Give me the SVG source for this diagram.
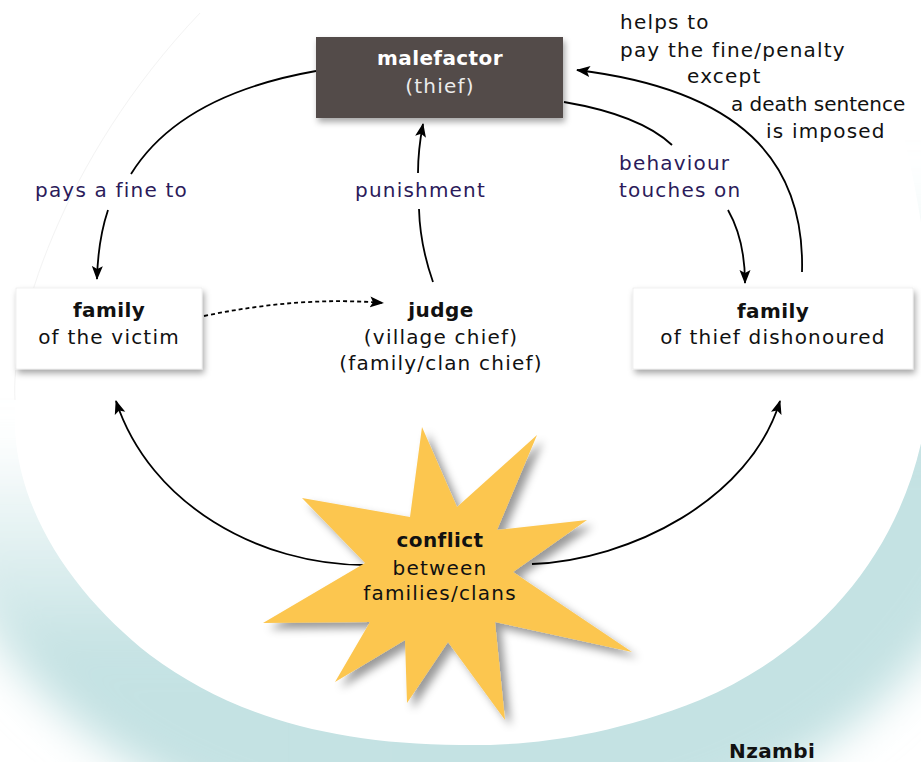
<svg xmlns="http://www.w3.org/2000/svg" width="921" height="762" viewBox="0 0 921 762">
<defs>
<style>
text{font-family:"DejaVu Sans","Liberation Sans",sans-serif;font-size:20px;letter-spacing:1.2px;fill:#111}
.b{font-weight:bold;letter-spacing:0.4px}
.m{text-anchor:middle}
.lbl{fill:#2b1b5a}
.w{fill:#ffffff}
.w2{fill:#ececec}
.tight{letter-spacing:0px}
.con{fill:none;stroke:#000;stroke-width:1.8}
.dot{fill:none;stroke:#000;stroke-width:1.8;stroke-dasharray:4 3}
.box{fill:#ffffff;stroke:#e6e6e6;stroke-width:0.6}
.ring{fill:none;stroke-width:200}
</style>
<linearGradient id="ringL" gradientUnits="userSpaceOnUse" x1="0" y1="430" x2="0" y2="660">
<stop offset="0" stop-color="#c4e2e3" stop-opacity="0"/>
<stop offset="1" stop-color="#c4e2e3" stop-opacity="1"/>
</linearGradient>
<linearGradient id="ringR" gradientUnits="userSpaceOnUse" x1="0" y1="170" x2="0" y2="460">
<stop offset="0" stop-color="#c4e2e3" stop-opacity="0"/>
<stop offset="1" stop-color="#c4e2e3" stop-opacity="1"/>
</linearGradient>
<filter id="blur" x="-30%" y="-30%" width="160%" height="160%">
<feGaussianBlur stdDeviation="22"/>
</filter>
<filter id="sh" x="-20%" y="-20%" width="150%" height="160%">
<feDropShadow dx="2" dy="4" stdDeviation="3" flood-color="#000" flood-opacity="0.35"/>
</filter>
<filter id="shs" x="-20%" y="-20%" width="150%" height="150%">
<feDropShadow dx="6" dy="6" stdDeviation="4" flood-color="#000" flood-opacity="0.4"/>
</filter>
<marker id="ah" markerUnits="userSpaceOnUse" markerWidth="16" markerHeight="12" refX="13" refY="6" orient="auto" viewBox="0 0 16 12">
<path d="M0,0.5 L14,6 L0,11.5 L3,6 z" fill="#000"/>
</marker>
</defs>

<g id="background">
<rect x="0" y="0" width="921" height="762" fill="#ffffff"/>
<path class="ring" d="M 200,13 C 60,160 10,330 15,430 C 20,520 80,600 150,655 C 230,715 330,744 460,745 L 580,744" stroke="url(#ringL)" filter="url(#blur)"/>
<path class="ring" d="M 340,744 L 460,745 C 520,746 600,740 700,700 C 840,640 922,520 930,380 C 940,220 880,40 840,-80" stroke="url(#ringR)" filter="url(#blur)"/>
<path d="M -80,-80 L 840,-80 C 880,40 940,220 930,380 C 922,520 840,640 700,700 C 600,740 520,746 460,745 C 330,744 230,715 150,655 C 80,600 20,520 15,430 C 10,330 60,160 200,13 L 230,-80 Z" fill="#ffffff"/>
<path d="M 200,13 C 60,160 10,330 15,400" fill="none" stroke="#f3f3f3" stroke-width="1"/>
</g>

<g id="connectors">
<path class="con" d="M316,71 Q 180,95 131,174"/>
<path class="con" d="M108,210 Q 98,240 97,279" marker-end="url(#ah)"/>
<path class="con" d="M433,282 Q 420,245 419,209"/>
<path class="con" d="M418,173 Q 418,150 423,124" marker-end="url(#ah)"/>
<path class="con" d="M564,102 Q 640,115 672,145"/>
<path class="con" d="M728,210 Q 745,240 745,283" marker-end="url(#ah)"/>
<path class="con" d="M802,272 C 805,160 740,90 577,70" marker-end="url(#ah)"/>
<path class="dot" d="M204,316 Q 300,296 383,303" marker-end="url(#ah)"/>
<path class="con" d="M365,565 C 260,565 150,505 116,401" marker-end="url(#ah)"/>
<path class="con" d="M532,564 C 630,560 750,500 780,401" marker-end="url(#ah)"/>
</g>

<g id="node-malefactor">
<rect x="316" y="37" width="247" height="81" fill="#524c49" filter="url(#sh)"/>
<text class="b m w" x="440" y="65">malefactor</text>
<text class="m w2" x="440" y="93">(thief)</text>
</g>

<g id="node-family-victim">
<rect class="box" x="16" y="288" width="186" height="81" filter="url(#sh)"/>
<text class="b m" x="109" y="317">family</text>
<text class="m" x="109" y="344">of the victim</text>
</g>

<g id="node-judge">
<text class="b m" x="441" y="317">judge</text>
<text class="m" x="441" y="344">(village chief)</text>
<text class="m" x="441" y="370">(family/clan chief)</text>
</g>

<g id="node-family-thief">
<rect class="box" x="633" y="288" width="280" height="81" filter="url(#sh)"/>
<text class="b m" x="773" y="318">family</text>
<text class="m" x="773" y="344">of thief dishonoured</text>
</g>

<g id="node-conflict">
<path d="M422,427 L457,507 L537,435 L497,530 L587,520 L513,572 L632,652 L495,622 L505,720 L448,642 L407,703 L405,640 L335,682 L370,622 L263,623 L365,563 L302,498 L410,517 Z" fill="#fcc650" filter="url(#shs)"/>
<text class="b m" x="440" y="547">conflict</text>
<text class="m" x="440" y="575">between</text>
<text class="m" x="440" y="600">families/clans</text>
</g>

<g id="labels">
<text class="lbl" x="35" y="197">pays a fine to</text>
<text class="lbl" x="355" y="197">punishment</text>
<text class="lbl" x="619" y="170">behaviour</text>
<text class="lbl" x="619" y="197">touches on</text>
<text x="620" y="29">helps to</text>
<text x="620" y="57">pay the fine/penalty</text>
<text x="687" y="83">except</text>
<text class="tight" x="731" y="111">a death sentence</text>
<text x="766" y="138">is imposed</text>
</g>

<g id="node-nzambi">
<text class="b" x="729" y="758">Nzambi</text>
</g>
</svg>
